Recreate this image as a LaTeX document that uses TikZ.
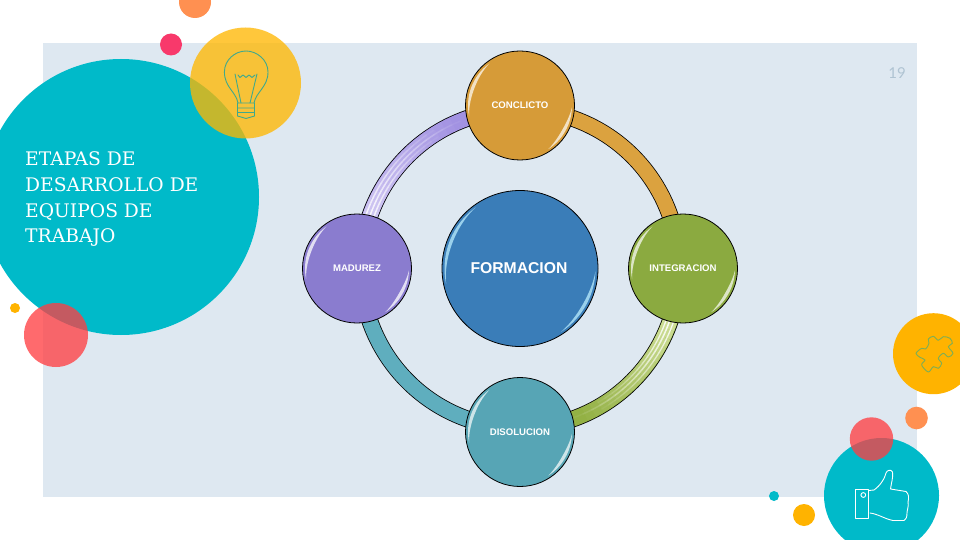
\documentclass[tikz,border=0pt]{standalone}
\usepackage{fontspec}
\setmainfont{Liberation Sans}
\newfontfamily\titlefont{DejaVu Serif}
\newfontfamily\numfont{Lato}
\usetikzlibrary{calc}
\pgfdeclarelayer{decor}
\pgfdeclarelayer{ringlayer}
\pgfsetlayers{decor,ringlayer,main}
\definecolor{panel}{HTML}{DEE8F1}
\definecolor{tealc}{HTML}{00BAC9}
\definecolor{ambera}{HTML}{FFB300}
\definecolor{softy}{HTML}{FFB700}
\definecolor{softr}{HTML}{FF3E42}
\definecolor{orangec}{HTML}{FF9051}
\definecolor{pinkc}{HTML}{F8396B}
\definecolor{cConc}{HTML}{D69B38}
\definecolor{cInte}{HTML}{8BAA40}
\definecolor{cMadu}{HTML}{8A7CCF}
\definecolor{cDiso}{HTML}{57A5B5}
\definecolor{cForm}{HTML}{3A7DB8}
\definecolor{rPurple}{HTML}{A292E2}
\definecolor{rOrange}{HTML}{DBA23F}
\definecolor{rGreen}{HTML}{93B144}
\definecolor{rTeal}{HTML}{5FAEBE}
\definecolor{bulbc}{HTML}{3FA98C}
\definecolor{puzzc}{HTML}{7DAE55}
\definecolor{numc}{HTML}{AFC3D2}
\definecolor{paleg}{HTML}{D4E3A0}
\definecolor{palep}{HTML}{D9D2F6}
\tikzset{
  x=1pt,y=-1pt,
  stage/.style={circle,draw=black,line width=.8pt,inner sep=0pt,minimum size=109pt,
    text=white,font=\fontsize{9.6}{11}\selectfont\bfseries},
  core/.style={stage,minimum size=156pt,font=\fontsize{15.7}{18}\selectfont\bfseries},
  ringarc/.style={draw=black,line width=.8pt,double=#1,double distance=15.2pt},
  iconline/.style={line width=.9pt,line join=round,line cap=round},
}
% crescent highlight: node, radius, start angle, end angle, thickness, colour, opacity
\newcommand\crescent[7]{%
  \fill[#6,opacity=#7,shift={(#1.center)}]
    plot[domain=#3:#4,samples=28,variable=\t] (\t:{#2})
    -- plot[domain=#4:#3,samples=28,variable=\t] (\t:{#2-#5*sin((\t-#3)/(#4-#3)*180)}) -- cycle;}
\newcommand\glossy[4]{%
  \crescent{#1}{#2}{168}{234}{3.2}{#3}{#4}
  \crescent{#1}{#2}{2}{57}{3.2}{#3}{#4}}
% fading stripe along the ring: radius, start angle, end angle, colour, width
\newcommand\stripe[5]{%
  \foreach \i in {0,...,15}{%
    \pgfmathsetmacro\aa{#2+(#3-#2)*\i/16}%
    \pgfmathsetmacro\bb{#2+(#3-#2)*(\i+1)/16}%
    \pgfmathsetmacro\oo{0.95*(1-\i/16)}%
    \draw[#4,line width=#5,opacity=\oo] ($(form.center)+(\aa:#1)$) arc[start angle=\aa,end angle=\bb,radius=#1];
  }}
\begin{document}
\begin{tikzpicture}
\useasboundingbox (0,0) rectangle (960,540);
\begin{pgfonlayer}{decor}
  \fill[white] (0,0) rectangle (960,540);
  \fill[panel] (43,43) rectangle (917,497);
  \fill[tealc] (121,197) circle (138);
  \fill[softy,opacity=.77] (245.5,83) circle (55.5);
  \fill[orangec] (195,2) circle (16);
  \fill[pinkc] (171,44.5) circle (11);
  \fill[ambera] (15,308) circle (5);
  \fill[softr,opacity=.77] (56,335) circle (32);
  \fill[ambera] (933.5,353.7) circle (40.5);
  \fill[orangec] (916.5,418) circle (11.3);
  \fill[tealc] (881.5,495.5) circle (57.5);
  \fill[softr,opacity=.77] (871.5,439) circle (21.7);
  \fill[tealc] (774,496) circle (5);
  \fill[ambera] (804,515) circle (11);
  % light bulb
  \draw[iconline,draw=bulbc] (238,103) .. controls (236,92) and (224.5,87) .. (224.4,72) .. controls (224.4,60) and (235,51) .. (246,51) .. controls (257,51) and (268,60) .. (268,72) .. controls (268,87) and (256,92) .. (254,103);
  \draw[iconline,draw=bulbc] (235,74) -- (241,103) (257,74) -- (250,103);
  \draw[iconline,draw=bulbc] (238,75) -- (240,77.5) -- (243,75) -- (246,77.5) -- (249,75) -- (252,77.5) -- (255,75);
  \draw[iconline,draw=bulbc] (237.5,103) -- (254.5,103) -- (254.5,116) -- (246,118.5) -- (237.5,116) -- cycle (237.5,108) -- (254.5,108) (237.5,112.5) -- (254.5,112.5);
  % thumb
  \draw[iconline,draw=white] (855,489) rectangle (868.7,518.5);
  \draw[iconline,draw=white] (863.3,495) circle (2.4);
  \draw[iconline,draw=white] (868.7,490.5) -- (874,490) .. controls (880,486) and (885,478) .. (886,473) .. controls (887,470) and (891,469) .. (892.5,472) .. controls (893.5,477) and (891,484) .. (890.5,489) -- (906,491.5) .. controls (909,494) and (909,498) .. (908,502) .. controls (909,506) and (907,510) .. (907,513) .. controls (907,517) and (906,520) .. (904,520.5) -- (893,520.5) .. controls (885,519) and (878,514) .. (870,513);
  % puzzle
  \begin{scope}[shift={(905,325)},scale=.3333]
    \draw[iconline,draw=puzzc] plot[smooth cycle,tension=.55] coordinates {(33,85) (50,70) (62,72) (72,55) (70,42) (85,34) (100,46) (115,35) (135,40) (142,55) (130,65) (144,85) (130,96) (115,85) (100,100) (110,115) (100,130) (85,125) (70,141) (50,120) (60,105) (45,97)};
  \end{scope}
\end{pgfonlayer}

\node[stage,fill=cConc] (conc) at (520,105.5) {CONCLICTO};
\node[stage,fill=cInte] (inte) at (683,268.5) {INTEGRACION};
\node[stage,fill=cDiso] (diso) at (520,432) {DISOLUCION};
\node[stage,fill=cMadu] (madu) at (357,268.5) {MADUREZ};
\node[core,fill=cForm] (form) at (520,268.5) {\hspace*{-2pt}FORMACION};

\begin{pgfonlayer}{ringlayer}
  \draw[ringarc=rOrange] ([yshift=-4pt]conc.center) to[out=0,in=90] ([xshift=-4pt]inte.center);
  \draw[ringarc=rGreen] ([xshift=-4pt]inte.center) to[out=-90,in=0] ([yshift=4pt]diso.center);
  \draw[ringarc=rTeal] ([yshift=4pt]diso.center) to[out=180,in=-90] ([xshift=4pt]madu.center);
  \draw[ringarc=rPurple] ([xshift=4pt]madu.center) to[out=90,in=180] ([yshift=-4pt]conc.center);
  \stripe{159}{192}{245}{palep}{14.6pt}
  \stripe{163}{192}{238}{white}{1.5pt}
  \stripe{159}{192}{248}{white}{1.5pt}
  \stripe{155}{192}{238}{white}{1.5pt}
  \stripe{159}{16}{66}{paleg}{14.6pt}
  \stripe{162.5}{16}{60}{white}{1.3pt}
  \stripe{158.5}{16}{70}{white}{1.5pt}
  \stripe{155}{16}{60}{white}{1.3pt}
\end{pgfonlayer}

\glossy{conc}{52}{white}{.7}
\glossy{inte}{52}{white}{.7}
\glossy{diso}{52}{white}{.7}
\glossy{madu}{52}{white}{.75}
\glossy{form}{75.5}{cyan!30!white}{.8}

\node[anchor=base west,inner sep=0pt,text=white,align=left,
  font=\titlefont\fontsize{18.7}{25.7}\selectfont] (title) at (25,242.7)
  {ETAPAS DE\\DESARROLLO DE\\EQUIPOS DE\\TRABAJO};
\node[inner sep=0pt,text=numc,font=\numfont\fontsize{15}{18}\selectfont] (pnum) at (897,73) {19};
\end{tikzpicture}
\end{document}
